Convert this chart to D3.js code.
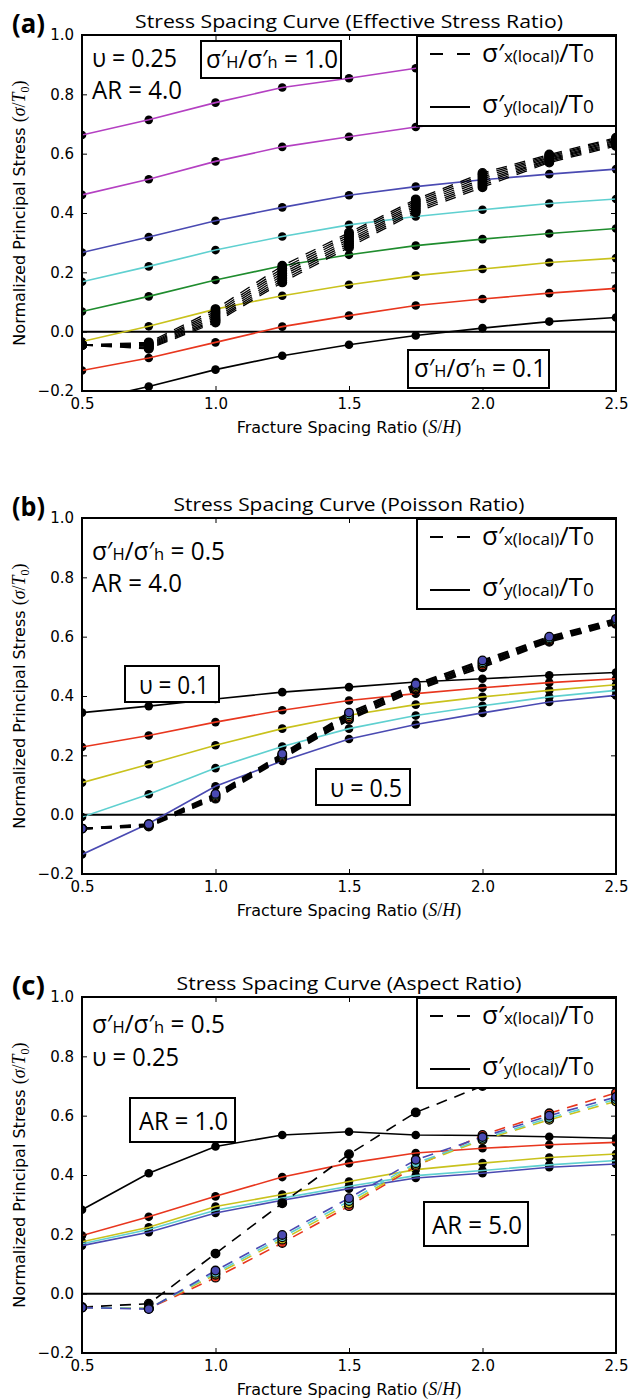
<!DOCTYPE html>
<html><head><meta charset="utf-8">
<script src="https://cdn.jsdelivr.net/npm/d3@7"></script>
<style>body{margin:0;background:#fff} svg{display:block}</style>
</head><body>
<svg id="chart" width="630" height="1400"></svg>
<script>
// ---------- data ----------
const xValues = [0.5, 0.75, 1.0, 1.25, 1.5, 1.75, 2.0, 2.25, 2.5];
const xTicks = [0.5, 1.0, 1.5, 2.0, 2.5];
const yTicks = [-0.2, 0.0, 0.2, 0.4, 0.6, 0.8, 1.0];

// (a) effective stress ratio — sigma'y (solid)
const aM1 = [0.663, 0.714, 0.772, 0.823, 0.854, 0.888, 0.912, 0.931, 0.948];
const aM2 = [0.461, 0.514, 0.574, 0.623, 0.657, 0.690, 0.712, 0.731, 0.748];
const aB  = [0.267, 0.319, 0.374, 0.419, 0.460, 0.489, 0.512, 0.531, 0.548];
const aC  = [0.168, 0.220, 0.275, 0.321, 0.360, 0.388, 0.411, 0.432, 0.447];
const aG  = [0.068, 0.119, 0.174, 0.222, 0.259, 0.290, 0.312, 0.331, 0.348];
const aY  = [-0.033, 0.018, 0.076, 0.121, 0.158, 0.189, 0.211, 0.233, 0.248];
const aR  = [-0.131, -0.089, -0.036, 0.017, 0.054, 0.088, 0.110, 0.130, 0.146];
const aK  = [-0.235, -0.185, -0.128, -0.081, -0.044, -0.013, 0.012, 0.034, 0.048];
// (a) sigma'x (dashed)
const aD1 = [-0.045, -0.036, 0.076, 0.222, 0.334, 0.446, 0.535, 0.597, 0.654];
const aD2 = [-0.045, -0.040, 0.068, 0.213, 0.327, 0.440, 0.529, 0.593, 0.650];
const aD3 = [-0.045, -0.043, 0.061, 0.205, 0.320, 0.433, 0.522, 0.589, 0.646];
const aD4 = [-0.045, -0.046, 0.054, 0.197, 0.312, 0.427, 0.515, 0.585, 0.642];
const aD5 = [-0.045, -0.049, 0.047, 0.189, 0.305, 0.421, 0.508, 0.581, 0.638];
const aD6 = [-0.045, -0.052, 0.041, 0.181, 0.298, 0.414, 0.501, 0.578, 0.634];
const aD7 = [-0.045, -0.055, 0.036, 0.173, 0.291, 0.408, 0.494, 0.574, 0.630];
const aD8 = [-0.045, -0.058, 0.031, 0.166, 0.284, 0.402, 0.487, 0.570, 0.626];

// (b) Poisson ratio — sigma'y (solid)
const bK = [0.344, 0.366, 0.390, 0.413, 0.430, 0.447, 0.458, 0.470, 0.479];
const bR = [0.228, 0.267, 0.312, 0.352, 0.385, 0.408, 0.428, 0.445, 0.458];
const bY = [0.108, 0.170, 0.234, 0.290, 0.335, 0.371, 0.397, 0.419, 0.438];
const bC = [-0.008, 0.069, 0.157, 0.230, 0.290, 0.334, 0.367, 0.397, 0.419];
const bB = [-0.134, -0.030, 0.096, 0.181, 0.255, 0.304, 0.343, 0.380, 0.402];
// (b) sigma'x (dashed)
const bDK = [-0.047, -0.040, 0.054, 0.189, 0.320, 0.420, 0.497, 0.583, 0.643];
const bDR = [-0.047, -0.038, 0.058, 0.193, 0.326, 0.425, 0.503, 0.587, 0.647];
const bDY = [-0.047, -0.036, 0.062, 0.197, 0.332, 0.430, 0.509, 0.591, 0.651];
const bDC = [-0.047, -0.034, 0.066, 0.201, 0.338, 0.435, 0.514, 0.595, 0.655];
const bDB = [-0.047, -0.032, 0.070, 0.205, 0.344, 0.440, 0.520, 0.600, 0.660];

// (c) aspect ratio — sigma'y (solid)
const cK = [0.283, 0.406, 0.496, 0.535, 0.546, 0.535, 0.533, 0.529, 0.524];
const cR = [0.196, 0.259, 0.328, 0.393, 0.440, 0.474, 0.490, 0.502, 0.510];
const cY = [0.175, 0.224, 0.294, 0.334, 0.378, 0.418, 0.440, 0.459, 0.471];
const cC = [0.168, 0.216, 0.281, 0.322, 0.362, 0.398, 0.415, 0.434, 0.449];
const cB = [0.162, 0.207, 0.272, 0.315, 0.354, 0.390, 0.406, 0.426, 0.437];
// (c) sigma'x (dashed)
const cDK = [-0.045, -0.034, 0.135, 0.305, 0.470, 0.611, 0.700, 0.780, 0.850];
const cDR = [-0.047, -0.050, 0.054, 0.171, 0.295, 0.429, 0.535, 0.608, 0.677];
const cDY = [-0.047, -0.049, 0.064, 0.182, 0.303, 0.434, 0.518, 0.586, 0.648];
const cDC = [-0.047, -0.050, 0.070, 0.190, 0.312, 0.440, 0.522, 0.592, 0.655];
const cDB = [-0.047, -0.052, 0.078, 0.198, 0.322, 0.451, 0.528, 0.600, 0.663];

const titles = ["Stress Spacing Curve (Effective Stress Ratio)",
                "Stress Spacing Curve (Poisson Ratio)",
                "Stress Spacing Curve (Aspect Ratio)"];
const panelLabels = ["(a)", "(b)", "(c)"];

// ---------- styles ----------
const COL = {k:"#000000", r:"#e8361e", y:"#c9c21d", g:"#1f8c2e", c:"#5fd0d0", b:"#4a4ab2", m:"#b440c2"};
const ANN = "'Open Sans','Noto Sans',sans-serif";
const TICKF = "'DejaVu Sans',sans-serif";
const MATHF = "'Liberation Serif','DejaVu Serif',serif";

const svg = d3.select("#chart");
const L = 82, W = 534, H = 356;

function rich(parent, x, y, parts, width, anchor) {
  const t = parent.append("text").attr("x", x).attr("y", y)
    .attr("text-anchor", anchor || "start").style("font-family", ANN).attr("fill", "#000");
  parts.forEach(p => t.append("tspan").attr("font-size", p[1]).text(p[0]));
  if (width) {
    const w = t.node().getBBox().width;
    if (w > 0) {
      const k = width / w;
      t.attr("transform", `translate(${x},0) scale(${k},1) translate(${-x},0)`);
    }
  }
  return t;
}
const ratioParts = v => [["σ′", 25], ["H", 17], ["/σ′", 25], ["h", 17], [" = " + v, 25]];

const panels = [
  {top: 35, titleW: 428,
   solid: [[aM1,"m"],[aM2,"m"],[aB,"b"],[aC,"c"],[aG,"g"],[aY,"y"],[aR,"r"],[aK,"k"]],
   dashed: [[aD1,"k"],[aD2,"k"],[aD3,"k"],[aD4,"k"],[aD5,"k"],[aD6,"k"],[aD7,"k"],[aD8,"k"]],
   dashColored: false, dashMarkColored: false, dashW: 1.3,
   notes: [{x:92, y:67, parts:[["υ = 0.25",25]], w:85},
           {x:92, y:99, parts:[["AR = 4.0",25]], w:90}],
   boxes: [{x0:201, x1:341, y0:41, y1:78, tx:206, ty:68, parts:ratioParts("1.0"), w:132},
           {x0:408, x1:549, y0:350, y1:388, tx:414, ty:377, parts:ratioParts("0.1"), w:132}]},
  {top: 518, titleW: 351,
   solid: [[bK,"k"],[bR,"r"],[bY,"y"],[bC,"c"],[bB,"b"]],
   dashed: [[bDK,"k"],[bDR,"r"],[bDY,"y"],[bDC,"c"],[bDB,"b"]],
   dashColored: false, dashMarkColored: true, dashW: 2,
   notes: [{x:92, y:560, parts:ratioParts("0.5"), w:133},
           {x:92, y:592, parts:[["AR = 4.0",25]], w:90}],
   boxes: [{x0:125, x1:219, y0:666, y1:702, tx:139, ty:694, parts:[["υ = 0.1",25]], w:70},
           {x0:316, x1:410, y0:769, y1:805, tx:330, ty:797, parts:[["υ = 0.5",25]], w:72}]},
  {top: 997, titleW: 345,
   solid: [[cK,"k"],[cR,"r"],[cY,"y"],[cC,"c"],[cB,"b"]],
   dashed: [[cDK,"k"],[cDR,"r"],[cDY,"y"],[cDC,"c"],[cDB,"b"]],
   dashColored: true, dashMarkColored: true, dashW: 1.6,
   notes: [{x:92, y:1033, parts:ratioParts("0.5"), w:133},
           {x:92, y:1066, parts:[["υ = 0.25",25]], w:87}],
   boxes: [{x0:130, x1:235, y0:1098, y1:1142, tx:139, ty:1130, parts:[["AR = 1.0",25]], w:89},
           {x0:424, x1:528, y0:1202, y1:1246, tx:432, ty:1234, parts:[["AR = 5.0",25]], w:90}]}
];

const x = d3.scaleLinear().domain([0.5, 2.5]).range([0, W]);
const fmt = d => (d < 0 ? "\u2212" : "") + Math.abs(d).toFixed(1);

panels.forEach((p, i) => {
  const y = d3.scaleLinear().domain([-0.2, 1.0]).range([H, 0]);
  const g = svg.append("g").attr("transform", `translate(${L},${p.top})`);
  const cid = "clip" + i;
  g.append("clipPath").attr("id", cid).append("rect").attr("width", W).attr("height", H);

  g.append("line").attr("x1", 0).attr("x2", W).attr("y1", y(0)).attr("y2", y(0))
    .attr("stroke", "#000").attr("stroke-width", 2);

  const data = g.append("g").attr("clip-path", `url(#${cid})`);
  const line = d3.line().x((d, j) => x(xValues[j])).y(d => y(d));

  p.solid.forEach(([vals]) => {
    data.append("g").selectAll("circle").data(vals).join("circle")
      .attr("cx", (d, j) => x(xValues[j])).attr("cy", d => y(d)).attr("r", 4.3).attr("fill", "#000");
  });
  p.solid.forEach(([vals, c]) => {
    data.append("path").datum(vals).attr("d", line).attr("fill", "none")
      .attr("stroke", COL[c]).attr("stroke-width", 1.6);
  });
  p.dashed.forEach(([vals, c]) => {
    data.append("path").datum(vals).attr("d", line).attr("fill", "none")
      .attr("stroke", p.dashColored ? COL[c] : "#000").attr("stroke-width", p.dashW)
      .attr("stroke-dasharray", "11,8");
  });
  p.dashed.forEach(([vals, c]) => {
    data.append("g").selectAll("circle").data(vals).join("circle")
      .attr("cx", (d, j) => x(xValues[j])).attr("cy", d => y(d)).attr("r", 4.3)
      .attr("fill", p.dashMarkColored ? COL[c] : "#000").attr("stroke", "#000").attr("stroke-width", 1.3);
  });

  const styleAxis = sel => {
    sel.select(".domain").remove();
    sel.selectAll("line").attr("stroke", "#000").attr("stroke-width", 1);
    sel.selectAll("text").style("font-family", TICKF).style("font-size", "15px").attr("fill", "#000");
  };
  g.append("g").call(d3.axisLeft(y).tickValues(yTicks).tickSize(-5).tickSizeOuter(0).tickPadding(8).tickFormat(fmt)).call(styleAxis);
  g.append("g").attr("transform", `translate(${W},0)`).call(d3.axisRight(y).tickValues(yTicks).tickSize(-5).tickSizeOuter(0).tickFormat("")).call(styleAxis);
  g.append("g").attr("transform", `translate(0,${H})`).call(d3.axisBottom(x).tickValues(xTicks).tickSize(-5).tickSizeOuter(0).tickPadding(7).tickFormat(d => d.toFixed(1))).call(styleAxis);
  g.append("g").call(d3.axisTop(x).tickValues(xTicks).tickSize(-5).tickSizeOuter(0).tickFormat("")).call(styleAxis);

  g.append("rect").attr("width", W).attr("height", H).attr("fill", "none")
    .attr("stroke", "#000").attr("stroke-width", 2);

  // legend
  const lg = svg.append("g");
  lg.append("rect").attr("x", 417).attr("y", p.top + 1).attr("width", 199).attr("height", 90)
    .attr("fill", "#fff").attr("stroke", "#000").attr("stroke-width", 2);
  lg.append("line").attr("x1", 430).attr("x2", 470).attr("y1", p.top + 19).attr("y2", p.top + 19)
    .attr("stroke", "#000").attr("stroke-width", 2).attr("stroke-dasharray", "13,14");
  lg.append("line").attr("x1", 430).attr("x2", 470).attr("y1", p.top + 72).attr("y2", p.top + 72)
    .attr("stroke", "#000").attr("stroke-width", 2);
  rich(lg, 482, p.top + 27, [["σ′", 26], ["x(local)", 17], ["/T", 26], ["0", 19]], 112);
  rich(lg, 482, p.top + 78, [["σ′", 26], ["y(local)", 17], ["/T", 26], ["0", 19]], 112);

  p.notes.forEach(n => rich(svg, n.x, n.y, n.parts, n.w));
  p.boxes.forEach(b => {
    svg.append("rect").attr("x", b.x0).attr("y", b.y0).attr("width", b.x1 - b.x0).attr("height", b.y1 - b.y0)
      .attr("fill", "#fff").attr("stroke", "#000").attr("stroke-width", 2);
    rich(svg, b.tx, b.ty, b.parts, b.w);
  });

  rich(svg, L + W / 2, p.top - 7, [[titles[i], 19]], p.titleW, "middle");
  const lab = svg.append("text").attr("x", 12).attr("y", p.top - 2).text(panelLabels[i])
    .style("font-family", ANN).attr("font-weight", "bold").attr("font-size", 26);
  const lw = lab.node().getBBox().width;
  lab.attr("transform", `translate(12,0) scale(${33 / lw},1) translate(-12,0)`);

  const xt = svg.append("text").attr("x", L + W / 2).attr("y", p.top + H + 42).attr("text-anchor", "middle")
    .style("font-family", TICKF).attr("font-size", 16);
  xt.append("tspan").text("Fracture Spacing Ratio ");
  xt.append("tspan").style("font-family", MATHF).attr("font-size", 18).text("(");
  xt.append("tspan").style("font-family", MATHF).attr("font-size", 18).attr("font-style", "italic").text("S");
  xt.append("tspan").style("font-family", MATHF).attr("font-size", 18).text("/");
  xt.append("tspan").style("font-family", MATHF).attr("font-size", 18).attr("font-style", "italic").text("H");
  xt.append("tspan").style("font-family", MATHF).attr("font-size", 18).text(")");

  const yt = svg.append("text").attr("transform", `translate(25,${p.top + H / 2}) rotate(-90)`)
    .attr("text-anchor", "middle").style("font-family", TICKF).attr("font-size", 16);
  yt.append("tspan").text("Normalized Principal Stress ");
  yt.append("tspan").style("font-family", MATHF).attr("font-size", 18).text("(");
  yt.append("tspan").style("font-family", MATHF).attr("font-size", 18).attr("font-style", "italic").text("σ");
  yt.append("tspan").style("font-family", MATHF).attr("font-size", 18).text("/");
  yt.append("tspan").style("font-family", MATHF).attr("font-size", 18).attr("font-style", "italic").text("T");
  yt.append("tspan").style("font-family", MATHF).attr("font-size", 12).attr("dy", 4).text("0");
  yt.append("tspan").style("font-family", MATHF).attr("font-size", 18).attr("dy", -4).text(")");
});
</script>
</body></html>
